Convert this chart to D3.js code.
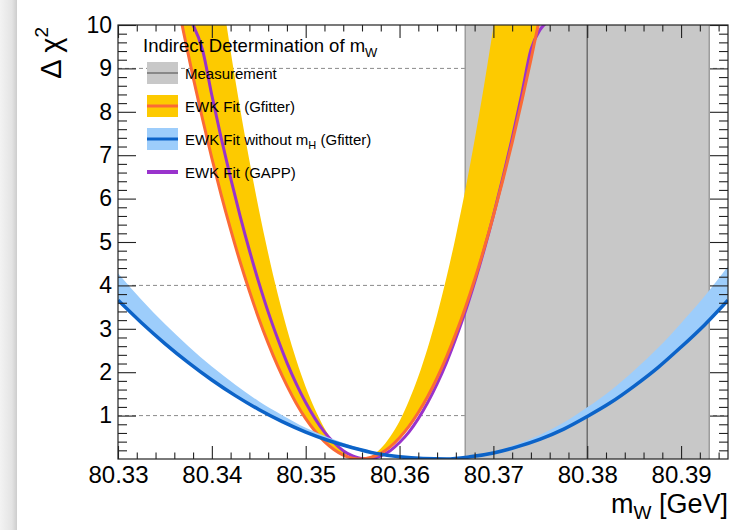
<!DOCTYPE html>
<html>
<head>
<meta charset="utf-8">
<script src="https://cdn.jsdelivr.net/npm/d3@7"></script>
<style>
  html, body { margin: 0; padding: 0; background: #fff; }
  svg { display: block; font-family: "Liberation Sans", Arial, Helvetica, sans-serif; }
</style>
</head>
<body>
<svg id="chart" width="742" height="530"></svg>
<script>
// ---- Δχ² profiles versus the W boson mass ----

// EWK fit without m_H (Gfitter): central profile and upper edge of the theory band
const blueMass = [80.3300, 80.3325, 80.3350, 80.3375, 80.3400, 80.3425, 80.3450, 80.3475, 80.3500,
                  80.3525, 80.3550, 80.3575, 80.3600, 80.3625, 80.3650, 80.3675, 80.3700, 80.3725,
                  80.3750, 80.3775, 80.3800, 80.3825, 80.3850, 80.3875, 80.3900, 80.3925, 80.3950];
const blueChi2 = [3.66, 3.14, 2.66, 2.22, 1.82, 1.46, 1.14, 0.86, 0.62,
                  0.42, 0.26, 0.13, 0.05, 0.01, 0.00, 0.05, 0.14, 0.28,
                  0.46, 0.69, 0.98, 1.30, 1.68, 2.10, 2.58, 3.09, 3.66];
const blueChi2Band = [4.28, 3.67, 3.11, 2.60, 2.13, 1.71, 1.33, 1.01, 0.72,
                      0.49, 0.30, 0.15, 0.06, 0.01, 0.00, 0.06, 0.17, 0.34,
                      0.56, 0.84, 1.19, 1.58, 2.04, 2.55, 3.13, 3.75, 4.44];

// EWK fit (Gfitter): central profile and inner edge of the theory band
const gfitterMass = [80.336, 80.337, 80.338, 80.339, 80.340, 80.341, 80.342, 80.343, 80.344, 80.345,
                     80.346, 80.347, 80.348, 80.349, 80.350, 80.351, 80.352, 80.353, 80.354, 80.355,
                     80.356, 80.357, 80.358, 80.359, 80.360, 80.361, 80.362, 80.363, 80.364, 80.365,
                     80.366, 80.367, 80.368, 80.369, 80.370, 80.371, 80.372, 80.373, 80.374, 80.375,
                     80.376];
const gfitterChi2 = [10.89, 9.82, 8.80, 7.84, 6.93, 6.08, 5.29, 4.55, 3.87, 3.24,
                     2.67, 2.15, 1.69, 1.28, 0.93, 0.64, 0.40, 0.22, 0.09, 0.02,
                     0.00, 0.04, 0.13, 0.28, 0.49, 0.75, 1.07, 1.44, 1.87, 2.35,
                     2.89, 3.48, 4.13, 4.84, 5.60, 6.42, 7.29, 8.22, 9.20, 10.24,
                     11.33];
const gfitterChi2Band = [19.36, 17.45, 15.65, 13.94, 12.33, 10.82, 9.40, 8.09, 6.88, 5.76,
                         4.74, 3.82, 3.00, 2.28, 1.66, 1.14, 0.71, 0.39, 0.16, 0.03,
                         0.00, 0.07, 0.24, 0.51, 0.87, 1.34, 1.90, 2.56, 3.32, 4.18,
                         5.14, 6.19, 7.35, 8.60, 9.96, 11.41, 12.96, 14.61, 16.36, 18.20,
                         20.15];

// EWK fit (GAPP)
const gappMass = [80.337, 80.338, 80.339, 80.340, 80.341, 80.342, 80.343, 80.344, 80.345, 80.346,
                  80.347, 80.348, 80.349, 80.350, 80.351, 80.352, 80.353, 80.354, 80.355, 80.356,
                  80.357, 80.358, 80.359, 80.360, 80.361, 80.362, 80.363, 80.364, 80.365, 80.366,
                  80.367, 80.368, 80.369, 80.370, 80.371, 80.372, 80.373, 80.374, 80.375, 80.376];
const gappChi2 = [10.30, 10.00, 9.43, 8.38, 7.39, 6.47, 5.61, 4.81, 4.07, 3.39,
                  2.78, 2.22, 1.73, 1.30, 0.93, 0.62, 0.38, 0.19, 0.07, 0.01,
                  0.01, 0.07, 0.19, 0.38, 0.62, 0.93, 1.30, 1.73, 2.22, 2.78,
                  3.39, 4.07, 4.81, 5.61, 6.47, 7.39, 8.38, 9.43, 9.90, 10.10];

// Direct measurement of m_W
const measurementCentral = 80.380;
const measurementError = 0.013;

// Axes
const xDomain = [80.33, 80.395];
const yDomain = [0, 10];
const xTickValues = [80.33, 80.34, 80.35, 80.36, 80.37, 80.38, 80.39];
const yTickValues = [1, 2, 3, 4, 5, 6, 7, 8, 9, 10];
const dashedLevels = [1, 4, 9];

// Legend
const legendTitle = ["Indirect Determination of m", "W"];
const legendEntries = [
  { key: "meas",  text: ["Measurement"] },
  { key: "gfit",  text: ["EWK Fit (Gfitter)"] },
  { key: "noh",   text: ["EWK Fit without m", "H", " (Gfitter)"] },
  { key: "gapp",  text: ["EWK Fit (GAPP)"] }
];

// ---- drawing ----
const colors = {
  band: "#c8c8c8", bandEdge: "#9c9c9c", measLine: "#6f6f6f",
  yellow: "#fdca00", orange: "#fb6a36", purple: "#9933cc",
  blue: "#0c63c8", lightBlue: "#9dcdfb", grid: "#8a8a8a", axis: "#222"
};

const frame = { left: 118, right: 728, top: 25, bottom: 459 };
const svg = d3.select("#chart");

// left window shadow strip
const defs = svg.append("defs");
const grad = defs.append("linearGradient").attr("id", "shade").attr("x1", 0).attr("x2", 1).attr("y1", 0).attr("y2", 0);
grad.append("stop").attr("offset", 0).attr("stop-color", "#f3f3f3");
grad.append("stop").attr("offset", 0.7).attr("stop-color", "#e4e4e4");
grad.append("stop").attr("offset", 1).attr("stop-color", "#cdcdcd");
svg.append("rect").attr("x", 0).attr("y", 0).attr("width", 17).attr("height", 530).attr("fill", "url(#shade)");

const x = d3.scaleLinear().domain(xDomain).range([frame.left, frame.right]);
const y = d3.scaleLinear().domain(yDomain).range([frame.bottom, frame.top]);

defs.append("clipPath").attr("id", "plotClip")
  .append("rect")
  .attr("x", frame.left).attr("y", frame.top)
  .attr("width", frame.right - frame.left).attr("height", frame.bottom - frame.top);

const plot = svg.append("g").attr("clip-path", "url(#plotClip)");

// dashed reference levels
plot.selectAll("line.level").data(dashedLevels).join("line")
  .attr("class", "level")
  .attr("x1", frame.left).attr("x2", frame.right)
  .attr("y1", d => y(d)).attr("y2", d => y(d))
  .attr("stroke", colors.grid).attr("stroke-width", 1).attr("stroke-dasharray", "4,3");

// measurement band
const bandLo = measurementCentral - measurementError;
const bandHi = measurementCentral + measurementError;
plot.append("rect")
  .attr("x", x(bandLo)).attr("y", frame.top)
  .attr("width", x(bandHi) - x(bandLo)).attr("height", frame.bottom - frame.top)
  .attr("fill", colors.band);
plot.selectAll("line.bandEdge").data([bandLo, bandHi]).join("line")
  .attr("class", "bandEdge")
  .attr("x1", d => x(d)).attr("x2", d => x(d))
  .attr("y1", frame.top).attr("y2", frame.bottom)
  .attr("stroke", colors.bandEdge).attr("stroke-width", 1.5);
plot.append("line")
  .attr("x1", x(measurementCentral)).attr("x2", x(measurementCentral))
  .attr("y1", frame.top).attr("y2", frame.bottom)
  .attr("stroke", colors.measLine).attr("stroke-width", 1.5);

const curve = d3.curveMonotoneX;

// Gfitter band + line
const gfitterRows = gfitterMass.map((m, i) => ({ m, c: gfitterChi2[i], b: gfitterChi2Band[i] }));
plot.append("path").datum(gfitterRows)
  .attr("d", d3.area().curve(curve).x(d => x(d.m)).y0(d => y(d.c)).y1(d => y(d.b)))
  .attr("fill", colors.yellow);

// GAPP line
const gappRows = gappMass.map((m, i) => ({ m, c: gappChi2[i] }));
plot.append("path").datum(gappRows)
  .attr("d", d3.line().curve(curve).x(d => x(d.m)).y(d => y(d.c)))
  .attr("fill", "none").attr("stroke", colors.purple).attr("stroke-width", 3);

plot.append("path").datum(gfitterRows)
  .attr("d", d3.line().curve(curve).x(d => x(d.m)).y(d => y(d.c)))
  .attr("fill", "none").attr("stroke", colors.orange).attr("stroke-width", 3);

// fit without m_H band + line
const blueRows = blueMass.map((m, i) => ({ m, c: blueChi2[i], b: blueChi2Band[i] }));
plot.append("path").datum(blueRows)
  .attr("d", d3.area().curve(curve).x(d => x(d.m)).y0(d => y(d.c)).y1(d => y(d.b)))
  .attr("fill", colors.lightBlue);
plot.append("path").datum(blueRows)
  .attr("d", d3.line().curve(curve).x(d => x(d.m)).y(d => y(d.c)))
  .attr("fill", "none").attr("stroke", colors.blue).attr("stroke-width", 3.5);

// ---- axes (ticks point inwards on all four sides) ----
const xMinor = d3.range(0, 33).filter(i => i % 5 !== 0).map(i => xDomain[0] + i * 0.002);
const yMinor = d3.range(0, 51).filter(i => i % 5 !== 0).map(i => i * 0.2);
const fontFam = '"Liberation Sans", Arial, Helvetica, sans-serif';

function styleAxis(g) {
  g.select(".domain").remove();
  g.attr("color", colors.axis).attr("font-family", fontFam);
  g.selectAll(".tick line").attr("stroke-width", 1.1);
}

svg.append("g").attr("transform", `translate(0,${frame.bottom})`)
  .call(d3.axisBottom(x).tickValues(xTickValues).tickSize(-13).tickPadding(7).tickFormat(d3.format(".2f")))
  .call(styleAxis).attr("font-size", 24)
  .call(g => g.selectAll("text").attr("fill", "#000"));
svg.append("g").attr("transform", `translate(0,${frame.bottom})`)
  .call(d3.axisBottom(x).tickValues(xMinor).tickSize(-6.5).tickFormat(() => ""))
  .call(styleAxis);
svg.append("g").attr("transform", `translate(0,${frame.top})`)
  .call(d3.axisTop(x).tickValues(xTickValues).tickSize(-13).tickFormat(() => ""))
  .call(styleAxis);
svg.append("g").attr("transform", `translate(0,${frame.top})`)
  .call(d3.axisTop(x).tickValues(xMinor).tickSize(-6.5).tickFormat(() => ""))
  .call(styleAxis);

svg.append("g").attr("transform", `translate(${frame.left},0)`)
  .call(d3.axisLeft(y).tickValues(yTickValues).tickSize(-18).tickPadding(6).tickFormat(d3.format("d")))
  .call(styleAxis).attr("font-size", 23)
  .call(g => g.selectAll("text").attr("fill", "#000"));
svg.append("g").attr("transform", `translate(${frame.left},0)`)
  .call(d3.axisLeft(y).tickValues(yMinor).tickSize(-9).tickFormat(() => ""))
  .call(styleAxis);
svg.append("g").attr("transform", `translate(${frame.right},0)`)
  .call(d3.axisRight(y).tickValues(yTickValues).tickSize(-18).tickFormat(() => ""))
  .call(styleAxis);
svg.append("g").attr("transform", `translate(${frame.right},0)`)
  .call(d3.axisRight(y).tickValues(yMinor).tickSize(-9).tickFormat(() => ""))
  .call(styleAxis);

// frame
svg.append("rect")
  .attr("x", frame.left).attr("y", frame.top)
  .attr("width", frame.right - frame.left).attr("height", frame.bottom - frame.top)
  .attr("fill", "none").attr("stroke", colors.axis).attr("stroke-width", 1.2);

// axis titles
const xTitle = svg.append("text")
  .attr("x", frame.right).attr("y", 512.5)
  .attr("text-anchor", "end").attr("font-size", 27).attr("fill", "#000");
xTitle.append("tspan").text("m");
xTitle.append("tspan").attr("font-size", 19).attr("dy", 6).text("W");
xTitle.append("tspan").attr("dy", -6).text(" [GeV]");

const yTitle = svg.append("text")
  .attr("transform", `translate(61,27) rotate(-90)`)
  .attr("text-anchor", "end").attr("font-size", 29).attr("fill", "#000");
yTitle.append("tspan").text("Δ χ");
yTitle.append("tspan").attr("font-size", 19).attr("dy", -13).text("2");

// ---- legend ----
const legend = svg.append("g");
const lt = legend.append("text").attr("x", 143).attr("y", 52).attr("font-size", 18.5).attr("fill", "#000");
lt.append("tspan").text(legendTitle[0]);
lt.append("tspan").attr("font-size", 13).attr("dy", 5).text(legendTitle[1]);

const rowY = [73, 106, 139, 172];
const boxX = 147, boxW = 31, boxH = 22;
legendEntries.forEach((e, i) => {
  const cy = rowY[i];
  const g = legend.append("g");
  if (e.key === "meas") {
    g.append("rect").attr("x", boxX).attr("y", cy - boxH / 2).attr("width", boxW).attr("height", boxH).attr("fill", colors.band);
    g.append("line").attr("x1", boxX).attr("x2", boxX + boxW).attr("y1", cy).attr("y2", cy).attr("stroke", "#888").attr("stroke-width", 2);
  } else if (e.key === "gfit") {
    g.append("rect").attr("x", boxX).attr("y", cy - boxH / 2).attr("width", boxW).attr("height", boxH).attr("fill", colors.yellow);
    g.append("line").attr("x1", boxX).attr("x2", boxX + boxW).attr("y1", cy).attr("y2", cy).attr("stroke", colors.orange).attr("stroke-width", 3);
  } else if (e.key === "noh") {
    g.append("rect").attr("x", boxX).attr("y", cy - boxH / 2).attr("width", boxW).attr("height", boxH).attr("fill", colors.lightBlue);
    g.append("line").attr("x1", boxX).attr("x2", boxX + boxW).attr("y1", cy).attr("y2", cy).attr("stroke", colors.blue).attr("stroke-width", 3);
  } else {
    g.append("line").attr("x1", boxX).attr("x2", boxX + boxW).attr("y1", cy).attr("y2", cy).attr("stroke", colors.purple).attr("stroke-width", 4);
  }
  const t = g.append("text").attr("x", 185).attr("y", cy + 5.5).attr("font-size", 15).attr("fill", "#000");
  t.append("tspan").text(e.text[0]);
  if (e.text.length > 1) {
    t.append("tspan").attr("font-size", 11).attr("dy", 4).text(e.text[1]);
    t.append("tspan").attr("dy", -4).text(e.text[2]);
  }
});
</script>
</body>
</html>
